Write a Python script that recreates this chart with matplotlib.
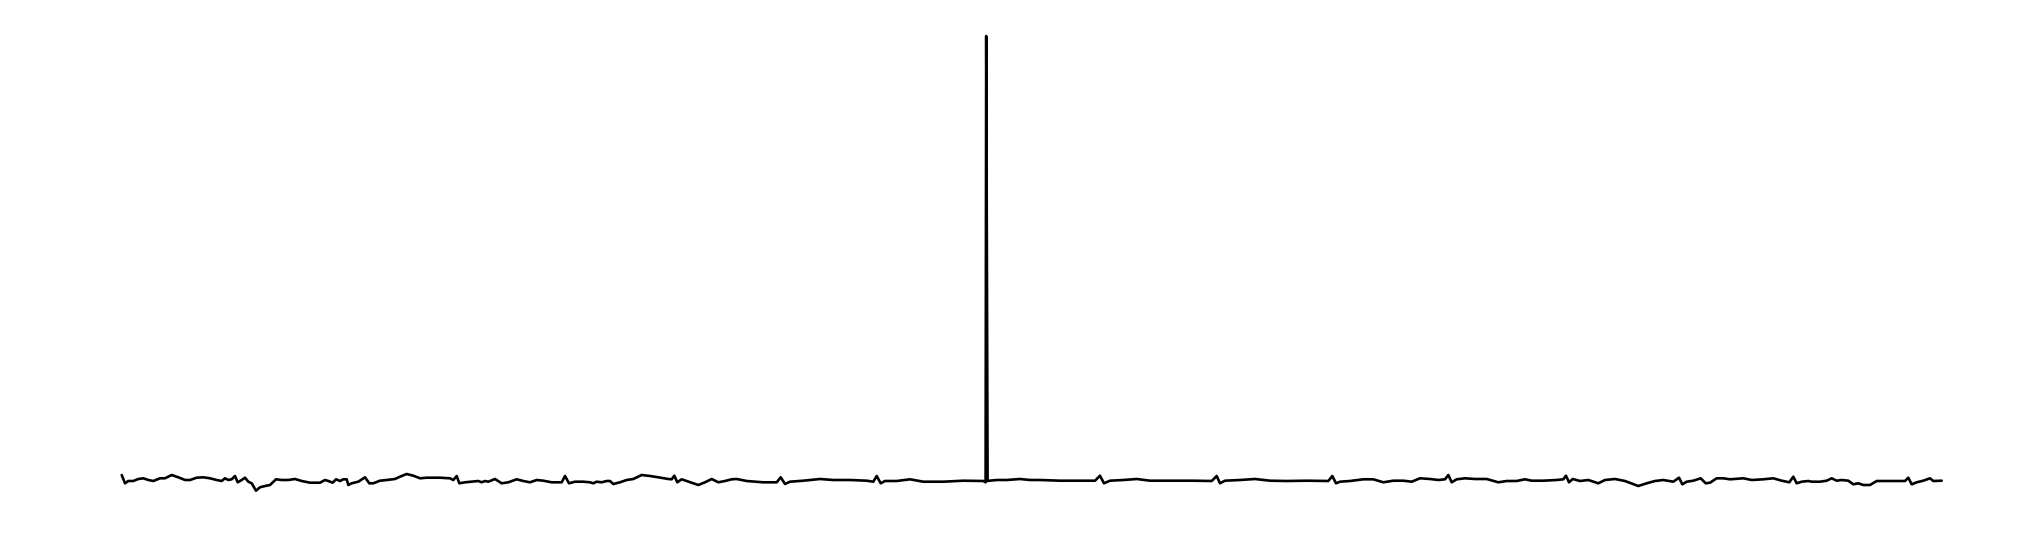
import matplotlib
matplotlib.use("Agg")
import matplotlib.pyplot as plt

# sample position and signal amplitude
t = [121.7, 125, 128.3, 133.3, 138.3, 143.3, 148.3, 153.3, 160, 165, 171.7, 178.3, 185, 190,
     196.7, 203.3, 210, 216.7, 221.7, 225, 228.3, 231.7, 235, 237.7, 241.7, 245, 248.3, 251.7,
     256, 260, 265, 270, 276, 281.7, 288.3, 295, 301.7, 310, 320, 325, 328.3, 332.7, 336, 340,
     343.3, 346.7, 348.3, 351.7, 358.3, 365, 369.3, 373.3, 380, 386.7, 395, 400, 406.7, 413.3,
     420, 426.7, 440, 450, 453.3, 456.7, 459.3, 465, 471.7, 478.3, 481.7, 485, 488.3, 495,
     501.7, 508.3, 516.7, 523.3, 530, 536.7, 543.3, 551.7, 561.7, 565, 569, 575, 583.3, 590,
     593.3, 596.7, 601.7, 606.7, 610, 613.3, 620, 626.7, 633.3, 641.7, 650, 658.3, 668.3,
     671.7, 674.3, 677.3, 681.7, 686.7, 691.7, 698.3, 705, 711.7, 718.3, 725, 731.7, 736.7,
     746.7, 763.3, 776.7, 780.7, 785, 790, 803.3, 820, 833.3, 850, 866.7, 873.3, 876.7, 880.7,
     885, 896.7, 910, 923.3, 943.3, 963.3, 983.3, 985.6, 986.2, 987.6, 989.5, 996.7, 1006.7, 1020,
     1030, 1040, 1060, 1080, 1095, 1100, 1104, 1110, 1123.3, 1136.7, 1150, 1173.3, 1193.3,
     1211.7, 1216.7, 1220, 1225, 1240, 1255, 1270, 1286.7, 1306.7, 1328.3, 1332.3, 1336, 1340,
     1350, 1363.3, 1373.3, 1383.3, 1393.3, 1403.3, 1411.7, 1420, 1430, 1438.3, 1445, 1448.3,
     1451.7, 1456.7, 1465, 1475, 1486.7, 1498.3, 1506.7, 1516.7, 1525, 1531.7, 1543.3, 1556.7,
     1563.3, 1566, 1569, 1572.7, 1580, 1588.3, 1598.3, 1605, 1615, 1625, 1638.3, 1646.7, 1655,
     1663.3, 1673.3, 1679, 1682.3, 1686.7, 1693.3, 1700.7, 1705.7, 1710, 1716.7, 1723.3, 1730,
     1743.3, 1751.7, 1763.3, 1773.3, 1781.7, 1789.3, 1793.3, 1796.7, 1801.7, 1808.3, 1811.7,
     1820, 1826.7, 1831.7, 1836.7, 1841.7, 1848.3, 1853.3, 1858.3, 1863.3, 1870, 1876.7,
     1883.3, 1893.3, 1905, 1908.3, 1911.7, 1916.7, 1923.3, 1930, 1933.3, 1941.7]

amp = [5, -3.3, -1, -1, 1, 1.7, 0, -1, 1.7, 1.7, 5, 2.7, 0, 0,
       2.3, 2.7, 1.7, 0, -1, 1.7, 0, 0.7, 4, -2.3, 0, 2.3, -1.7, -3.3,
       -10.7, -7.3, -6, -5, 0.7, 0, 0, 1, -1, -2.7, -2.7, 0, -1, -2.7, 0.7, -1,
       0.7, 0.7, -5, -3.3, -1.7, 2.7, -3.3, -3.3, -0.7, 0, 1, 3.3, 6, 4.3,
       1.7, 2.3, 2.3, 1.7, 0, 4, -3.3, -2.3, -1.7, -1, -2.3, -1, -1.7, 1,
       -3.3, -2.3, 0.7, -1, -2.3, 0, -0.7, -2.3, -2.3, 4, -3.3, -1.7, -1.7, -2.3,
       -3.3, -1.7, -2.3, -1, -1, -4, -2.3, 0, 1, 5, 4, 2.7, 1,
       0.7, 4.3, -2.3, 0.7, -1, -2.7, -5, -2.3, 1, -2.3, -1, 0.7, 1,
       -1, -2.3, -2.3, 2.7, -4, -1.7, -0.7, 1, 0, 0, -0.7, -1.7, 4, -3.3,
       -1, -1, 0.7, -1.7, -1.7, -0.7, -1, -2.3, 444, -1, -0.7, 0, 0, 1,
       0, 0, -0.7, -0.7, -0.7, 4.3, -3.3, -0.7, 0, 1, -0.7, -0.7, -0.7,
       -1, 4, -3.3, -0.7, 0, 1, -0.7, -1, -0.7, -1, 4, -3.3, -1.7,
       -1, 0.7, 0.7, -2.3, -0.7, -0.7, -1.7, 1.7, 1, 0, 0.7, 5,
       -2.3, 0.7, 1.7, 1, 1, -2.3, -1, -1, 0.7, -0.7, -0.7, 0,
       0.7, 4.3, -2.3, 1, -1, 0, -3.3, 0, 1, -1, -6, -3.3, -1,
       0, -1.7, 2.3, -4.3, -1.7, -0.7, 1.7, -3.3, -2.7, 1.7, 1.7, 0.7,
       1.7, 0, 0.7, 1.7, -0.7, -2.3, 3.3, -3.3, -1.7, -1, -1.7,
       -1.7, -0.7, 1.7, -0.7, 0, -0.7, -4.3, -3.3, -5, -5, -1,
       -1, -1, -1, 2.3, -4.3, -2.3, -0.7, 1.7, -1, -0.7]

fig = plt.figure(figsize=(20.35, 5.38), dpi=100)
ax = fig.add_axes([0, 0, 1, 1])
ax.plot(t, amp, color="black", linewidth=1.9, solid_joinstyle="round",
        solid_capstyle="round")

ax.set_xlim(0, 2035)
ax.set_ylim(-58, 480)
ax.axis("off")

fig.savefig("out.png", dpi=100, facecolor="white")
